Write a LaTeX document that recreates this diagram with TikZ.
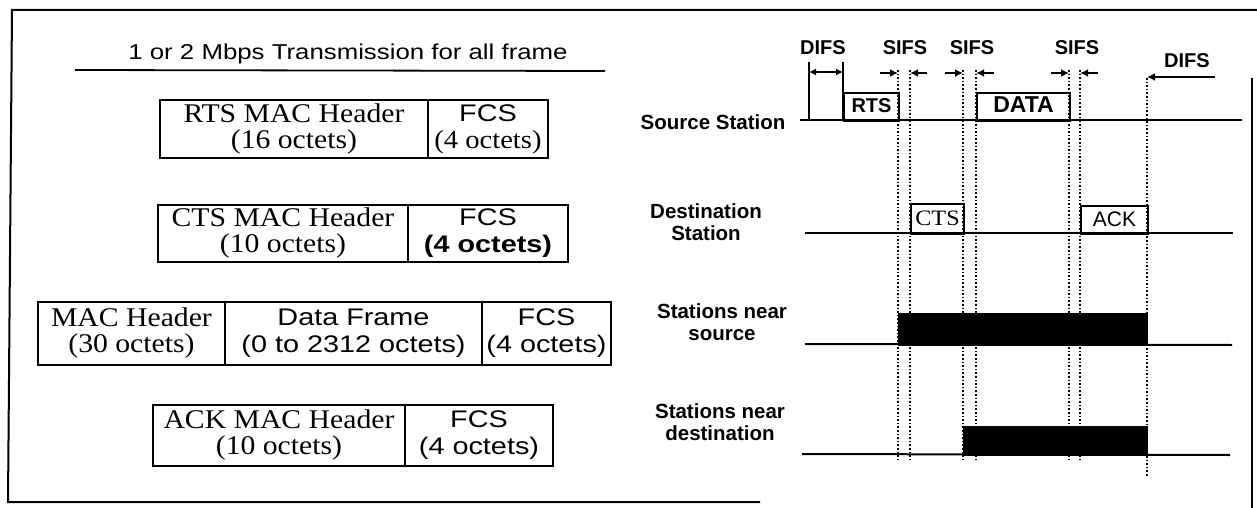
\documentclass[tikz,border=0pt]{standalone}
\usepackage{fontspec}
\setmainfont{Liberation Serif}
\setsansfont{Liberation Sans}
\newfontfamily\srf{Liberation Serif}[FakeStretch=1.1]
\newfontfamily\snf{Liberation Sans}[FakeStretch=1.2]
\newfontfamily\snp{Liberation Sans}
\usetikzlibrary{arrows.meta}
\begin{document}
\begin{tikzpicture}[x=1pt,y=-1pt,
  frame/.style={line width=2pt},
  cell/.style={draw,line width=2pt,inner sep=0pt,align=center,anchor=center},
  scell/.style={cell,font=\srf\fontsize{27}{26}\selectfont},
  ncell/.style={cell,font=\snf\fontsize{24}{27}\selectfont},
  stlabel/.style={align=center,font=\snp\bfseries\fontsize{20.5}{22}\selectfont},
  tlabel/.style={font=\snp\bfseries\fontsize{20}{22}\selectfont},
  tline/.style={line width=2pt},
  pulse/.style={draw,line width=2pt,inner sep=0pt,anchor=north west},
  blk/.style={fill=black,draw,line width=1pt,inner sep=0pt,anchor=north west},
  dl/.style={dotted,line width=1.6pt},
  arr/.style={line width=1.6pt,-{Latex[length=8pt,width=8pt]}},
  darr/.style={line width=1.6pt,{Latex[length=7pt,width=7pt]}-{Latex[length=7pt,width=7pt]}}
]
\useasboundingbox (0,0) rectangle (1257,508);
% frame
\coordinate (f1) at (1257,10);
\coordinate (f2) at (12,10);
\coordinate (f3) at (8,502);
\coordinate (f4) at (760,502);
\coordinate (f5) at (1252,78);
\coordinate (f6) at (1252,508);
\draw[frame] (f1) -- (f2) -- (f3) -- (f4);
\draw[frame] (f5) -- (f6);

% title
\node[font=\snf\fontsize{21.5}{24}\selectfont] (title) at (348,54) {1 or 2 Mbps Transmission for all frame};
\coordinate (tl1) at (75,70);
\coordinate (tl2) at (605,71);
\draw[line width=1.8pt] (tl1) -- (tl2);

% RTS frame
\node[scell,minimum width=268pt,minimum height=58pt] (rtsH) at (294,129)
  {RTS MAC Header\\(16 octets)};
\node[ncell,minimum width=120pt,minimum height=58pt] (rtsF) at (488,129)
  {FCS\\\srf\fontsize{26}{26}\selectfont (4 octets)};

% CTS frame
\node[scell,minimum width=250pt,minimum height=57pt] (ctsH) at (283,233.5)
  {CTS MAC Header\\(10 octets)};
\node[ncell,minimum width=160pt,minimum height=57pt] (ctsF) at (488,233.5)
  {FCS\\\bfseries (4 octets)};

% Data frame
\node[scell,minimum width=187pt,minimum height=63pt] (dH) at (131.5,333.5)
  {MAC Header\\(30 octets)};
\node[ncell,minimum width=257pt,minimum height=63pt] (dD) at (353.5,333.5)
  {Data Frame\\(0 to 2312 octets)};
\node[ncell,minimum width=129pt,minimum height=63pt] (dF) at (546.5,333.5)
  {FCS\\(4 octets)};

% ACK frame
\node[scell,minimum width=252pt,minimum height=61pt] (aH) at (279,435.5)
  {ACK MAC Header\\(10 octets)};
\node[ncell,minimum width=148pt,minimum height=61pt] (aF) at (479,435.5)
  {FCS\\(4 octets)};

% station labels
\node[stlabel] (ls) at (713,122) {Source Station};
\node[stlabel] (ld) at (706,222) {Destination\\Station};
\node[stlabel] (lns) at (722,322) {Stations near\\source};
\node[stlabel] (lnd) at (720,422) {Stations near\\destination};

% timing labels
\node[tlabel] (difs1) at (823,48) {DIFS};
\node[tlabel] (sifs1) at (905,48) {SIFS};
\node[tlabel] (sifs2) at (972,48) {SIFS};
\node[tlabel] (sifs3) at (1077,48) {SIFS};
\node[tlabel] (difs2) at (1187,61) {DIFS};

% dotted guide lines
\foreach \n/\x/\t/\b in {d1/898/70/462, d2/910/70/462, d3/963/70/462, d4/976/70/462, d5/1069/70/462, d6/1080/70/462, d7/1147/78/477}{
  \coordinate (\n t) at (\x,\t);
  \coordinate (\n b) at (\x,\b);
  \draw[dl] (\n t) -- (\n b);
}

% source station timeline
\coordinate (s0) at (800,120);
\coordinate (s1) at (1242,120);
\draw[tline] (s0) -- (s1);
\coordinate (v1b) at (809,120);
\coordinate (v1t) at (809,62);
\coordinate (v2t) at (843,62);
\coordinate (v2b) at (843,120);
\draw[tline] (v1b) -- (v1t);
\draw[tline] (v2t) -- (v2b);
\node[pulse,minimum width=55pt,minimum height=28pt] (rts) at (843,92) {};
\node[font=\snp\bfseries\fontsize{20}{22}\selectfont] at ([yshift=1pt]rts.center) {RTS};
\node[pulse,minimum width=93pt,minimum height=28pt] (data) at (976,92) {};
\node[font=\snp\bfseries\fontsize{23}{22}\selectfont] at ([yshift=2pt]data.center) {DATA};

% destination timeline
\coordinate (e0) at (805,233);
\coordinate (e1) at (1233,233);
\draw[tline] (e0) -- (e1);
\node[pulse,minimum width=53pt,minimum height=30pt] (cts) at (910,203) {};
\node[font=\srf\fontsize{22}{22}\selectfont] at ([yshift=1pt]cts.center) {CTS};
\node[pulse,minimum width=67pt,minimum height=28pt] (ack) at (1080,205) {};
\node[font=\snp\fontsize{21}{22}\selectfont] at ([yshift=1pt]ack.center) {ACK};

% stations near source
\coordinate (n0) at (805,344);
\coordinate (n1) at (1232,345);
\draw[tline] (n0) -- (n1);
\node[blk,minimum width=249pt,minimum height=32pt] (nav1) at (898,313) {};

% stations near destination
\coordinate (m0) at (802,454);
\coordinate (m1) at (1230,455);
\draw[tline] (m0) -- (m1);
\node[blk,minimum width=184pt,minimum height=29pt] (nav2) at (963,426) {};

% arrows
\coordinate (a1s) at (809,72); \coordinate (a1e) at (843,72);
\draw[darr] (a1s) -- (a1e);
\coordinate (b1) at (880,73); \draw[arr] (b1) -- (d1t |- b1);
\coordinate (b2) at (927,73); \draw[arr] (b2) -- (d2t |- b2);
\coordinate (b3) at (945,73); \draw[arr] (b3) -- (d3t |- b3);
\coordinate (b4) at (994,73); \draw[arr] (b4) -- (d4t |- b4);
\coordinate (b5) at (1051,73); \draw[arr] (b5) -- (d5t |- b5);
\coordinate (b6) at (1098,73); \draw[arr] (b6) -- (d6t |- b6);
\coordinate (b7) at (1215,77); \draw[arr] (b7) -- (d7t |- b7);
\end{tikzpicture}
\end{document}
